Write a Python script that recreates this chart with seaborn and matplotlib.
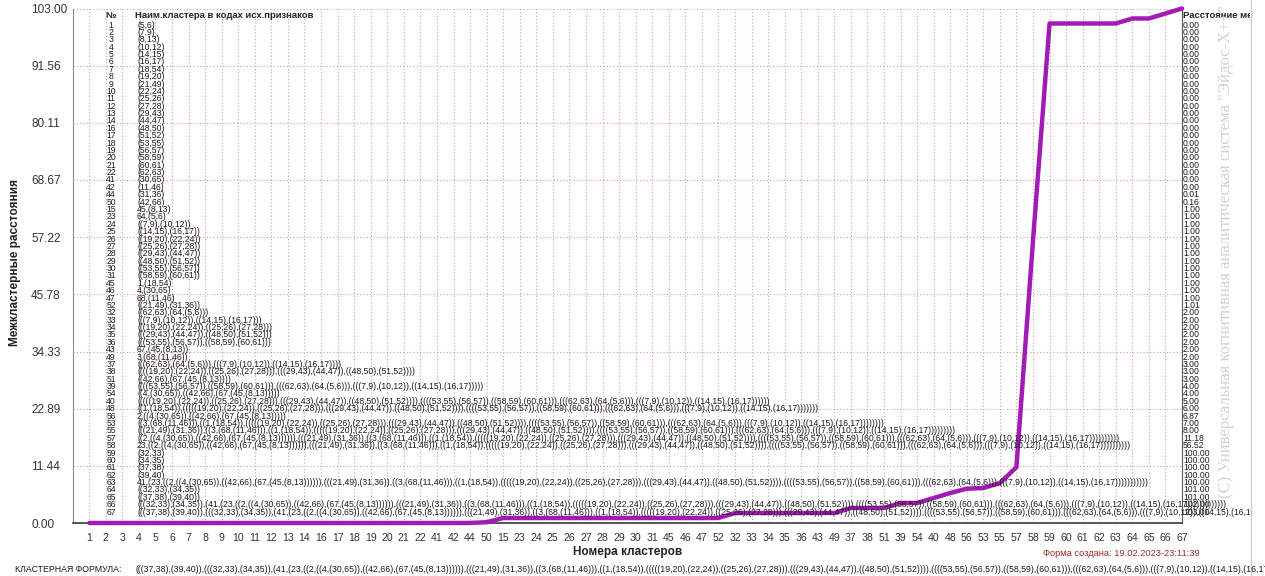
import matplotlib
matplotlib.use("Agg")
import matplotlib.pyplot as plt
from matplotlib.lines import Line2D
from matplotlib.transforms import Bbox
import numpy as np
import pandas as pd
import seaborn as sns

# Cluster numbers in the order they are placed along the x axis
cluster_order = [1, 2, 3, 4, 5, 6, 7, 8, 9, 10, 11, 12, 13, 14, 16, 17, 18, 19, 20, 21, 22,
                 41, 42, 44, 50, 15, 23, 24, 25, 26, 27, 28, 29, 30, 31, 45, 46, 47, 52,
                 32, 33, 34, 35, 36, 43, 49, 37, 38, 51, 39, 54, 40, 48, 56, 53, 55, 57,
                 58, 59, 60, 61, 62, 63, 64, 65, 66, 67]

# Inter-cluster distance for each cluster, same order
distances = [0.00] * 23 + [0.01, 0.16] + [1.00] * 13 + [1.01] + [2.00] * 7 + [3.00] * 3 + \
            [4.00] * 2 + [5.00, 6.00, 6.87, 7.00, 8.00, 11.18, 56.52] + [100.00] * 5 + \
            [101.00, 101.00, 102.00, 103.00]

# Merge tree: cluster -> (left, right); ints are source feature codes, "#k" refers to cluster k
merges = {
    1: (5, 6), 2: (7, 9), 3: (8, 13), 4: (10, 12), 5: (14, 15), 6: (16, 17), 7: (18, 54),
    8: (19, 20), 9: (21, 49), 10: (22, 24), 11: (25, 26), 12: (27, 28), 13: (29, 43),
    14: (44, 47), 15: (45, "#3"), 16: (48, 50), 17: (51, 52), 18: (53, 55), 19: (56, 57),
    20: (58, 59), 21: (60, 61), 22: (62, 63), 23: (64, "#1"), 24: ("#2", "#4"),
    25: ("#5", "#6"), 26: ("#8", "#10"), 27: ("#11", "#12"), 28: ("#13", "#14"),
    29: ("#16", "#17"), 30: ("#18", "#19"), 31: ("#20", "#21"), 32: ("#22", "#23"),
    33: ("#24", "#25"), 34: ("#26", "#27"), 35: ("#28", "#29"), 36: ("#30", "#31"),
    37: ("#32", "#33"), 38: ("#34", "#35"), 39: ("#36", "#37"), 40: ("#38", "#39"),
    41: (30, 65), 42: (11, 46), 43: (67, "#15"), 44: (31, 36), 45: (1, "#7"),
    46: (4, "#41"), 47: (68, "#42"), 48: ("#45", "#40"), 49: (3, "#47"), 50: (42, 66),
    51: ("#50", "#43"), 52: ("#9", "#44"), 53: ("#49", "#48"), 54: ("#46", "#51"),
    55: ("#52", "#53"), 56: (2, "#54"), 57: ("#56", "#55"), 58: (23, "#57"),
    59: (32, 33), 60: (34, 35), 61: (37, 38), 62: (39, 40), 63: (41, "#58"),
    64: ("#59", "#60"), 65: ("#61", "#62"), 66: ("#64", "#63"), 67: ("#65", "#66"),
}

y_ticks = np.linspace(0, 103, 10)


def part(x):
    if isinstance(x, int):
        return str(x)
    return "(" + inner(int(x[1:])) + ")"


def inner(k):
    a, b = merges[k]
    return part(a) + "," + part(b)


def cluster_name(k):
    a, b = merges[k]
    if isinstance(a, int) != isinstance(b, int):
        return inner(k)
    return "(" + inner(k) + ")"


W, H = 1265, 576
df = pd.DataFrame({"pos": np.arange(1, len(cluster_order) + 1), "dist": distances})

sns.set_style("white")
plt.rcParams["font.family"] = ["Liberation Sans", "DejaVu Sans"]
ROW_FONT = ["Liberation Sans", "DejaVu Sans"]
ROW_SIZE = 6.2
GRID = "#d99a9a"

fig = plt.figure(figsize=(W / 100, H / 100), dpi=100)
fig.patch.set_facecolor("white")
ax_l, ax_r, ax_t, ax_b = 72.7, 1182.0, 8.5, 523.0
ax = fig.add_axes([ax_l / W, 1 - ax_b / H, (ax_r - ax_l) / W, (ax_b - ax_t) / H])


def fx(x):
    return x / W


def fy(y):
    return 1 - y / H


# grid
for p in df["pos"]:
    ax.axvline(p, color=GRID, lw=0.8, ls=(0, (1, 2)), zorder=0)
for v in y_ticks:
    ax.axhline(v, color=GRID, lw=0.8, ls=(0, (1, 2)), zorder=0)

sns.lineplot(data=df, x="pos", y="dist", ax=ax, color="#a21bb3", lw=3.2, sort=False,
             zorder=3, clip_on=False)

ax.set_xlim(0, 67)
ax.set_ylim(0, 103)
ax.set_xticks(df["pos"])
ax.set_xticklabels([str(c) for c in cluster_order])
ax.set_yticks(y_ticks)
ax.set_yticklabels([f"{v:.2f}" for v in y_ticks])
ax.tick_params(axis="x", length=0, pad=7, labelsize=7.6, labelcolor="#333333")
ax.tick_params(axis="y", length=9, width=0.8, color=GRID, pad=21, labelsize=8.5,
               labelcolor="#333333")
for lbl in ax.get_yticklabels():
    lbl.set_ha("left")

for side in ["left", "right", "bottom"]:
    ax.spines[side].set_visible(True)
ax.spines["top"].set_visible(False)
ax.spines["left"].set_color("#8a8a8a")
ax.spines["right"].set_color("#5a5a5a")
ax.spines["bottom"].set_color("#3a3a3a")
ax.spines["bottom"].set_linewidth(1.2)

ax.set_xlabel("Номера кластеров", fontsize=8.5, fontweight="bold", color="#222222")
ax.xaxis.set_label_coords(0.5, -0.056)
ax.xaxis.label.set_va("center")
ax.set_ylabel("Межкластерные расстояния", fontsize=8.5, fontweight="bold", color="#222222")
ax.yaxis.set_label_coords(-0.052, 0.507)
ax.yaxis.label.set_va("center")

clip = Bbox.from_extents(0, 0, 1250, H)

# table of clusters drawn over the plot
fig.text(fx(111), fy(15), "№", ha="center", va="center", fontsize=6.8, fontweight="bold")
fig.text(fx(135), fy(15), "Наим.кластера в кодах исх.признаков", ha="left", va="center",
         fontsize=6.8, fontweight="bold")
t = fig.text(fx(1183), fy(15), "Расстояние между кластерами", ha="left", va="center",
             fontsize=6.8, fontweight="bold")
t.set_clip_box(clip)

row0, step = 25.0, 7.38
for i, (c, d) in enumerate(zip(cluster_order, distances)):
    y = row0 + i * step
    fig.text(fx(111), fy(y), str(c), ha="center", va="center", fontsize=ROW_SIZE,
             family=ROW_FONT, color="#1a1a1a")
    t = fig.text(fx(137), fy(y), cluster_name(c), ha="left", va="center", fontsize=ROW_SIZE,
                 family=ROW_FONT, color="#1a1a1a")
    t.set_clip_box(clip)
    t = fig.text(fx(1183), fy(y), f"{d:.2f}", ha="left", va="center", fontsize=ROW_SIZE,
                 family=ROW_FONT, color="#1a1a1a")
    t.set_clip_box(clip)

# watermark strip on the right
fig.text(fx(1226), fy(252), '(С) Универсальная когнитивная аналитическая система "Эйдос-Х++"',
         rotation=90, ha="center", va="center", fontsize=12,
         family=["Liberation Serif", "DejaVu Serif"], color="#d2d2d2")
fig.add_artist(Line2D([fx(1251)] * 2, [0, 1], transform=fig.transFigure, color="#cfcfcf", lw=1))

fig.text(fx(1043), fy(553), "Форма создана: 19.02.2023-23:11:39", ha="left", va="center",
         fontsize=6.7, color="#9b2a2a")
fig.text(fx(15), fy(570), "КЛАСТЕРНАЯ ФОРМУЛА:", ha="left", va="center", fontsize=6.3,
         color="#1a1a1a")
fig.text(fx(135), fy(570), "(" + inner(67) + ")", ha="left", va="center", fontsize=6.3,
         color="#1a1a1a")

fig.savefig("out.png", dpi=100, facecolor="white")
